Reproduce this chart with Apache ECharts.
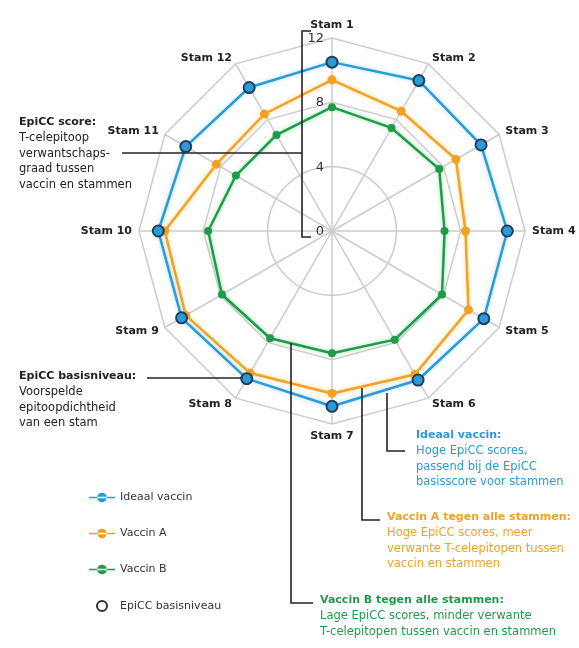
<!DOCTYPE html>
<html><head><meta charset="utf-8">
<script src="https://cdn.jsdelivr.net/npm/echarts@6/dist/echarts.min.js"></script>
<style>html,body{margin:0;padding:0;background:#fff}#c{width:579px;height:648px}</style>
</head><body><div id="c"></div>
<script>
// ---- data ----
const strains = ['Stam 1','Stam 2','Stam 3','Stam 4','Stam 5','Stam 6','Stam 7','Stam 8','Stam 9','Stam 10','Stam 11','Stam 12'];
const idealVaccine = [10.5, 10.8, 10.7, 10.9, 10.9, 10.7, 10.9, 10.6, 10.8, 10.8, 10.5, 10.3];
const vaccineA     = [9.4, 8.6, 8.9, 8.3, 9.8, 10.3, 10.1, 10.2, 10.5, 10.4, 8.3, 8.4];
const vaccineB     = [7.7, 7.4, 7.7, 7.0, 7.9, 7.8, 7.6, 7.7, 7.9, 7.7, 6.9, 6.9];
const baseLevel    = [10.5, 10.8, 10.7, 10.9, 10.9, 10.7, 10.9, 10.6, 10.8, 10.8, 10.5, 10.3];
const radialTicks  = [0, 4, 8, 12];
const seriesNames  = ['Ideaal vaccin', 'Vaccin A', 'Vaccin B', 'EpiCC basisniveau'];

// ---- build ----
const BLUE = '#2b9ad6', ORANGE = '#f2a125', GREEN = '#1f9a4b', GRID = '#cccccc', DARK = '#222';
const NONE = 'rgba(0,0,0,0)';
const maxV = radialTicks[radialTicks.length - 1];
const step = radialTicks[1] - radialTicks[0];
// clockwise ordering: Stam 1 at top, then Stam 2 to the right
const order = [0, 11, 10, 9, 8, 7, 6, 5, 4, 3, 2, 1];
const re = arr => order.map(i => arr[i]);
const indicators = order.map(i => ({ name: strains[i], max: maxV, min: 0 }));
const C = [332, 231], R = 193;
const FONT = 'DejaVu Sans';
const lineIcon = 'path://M0,4.2h26v1.6h-26z M13,0.2a4.8,4.8 0 1,0 0.01,0z';

function block(x, y, color, lines) {
  const txt = lines.map((l, i) => (i === 0 ? '{b|' : '{n|') + l + '}').join('\n');
  return {
    type: 'text', left: x, top: y, z: 10,
    style: {
      text: txt, fill: color, font: '12px ' + FONT,
      rich: {
        b: { fontFamily: FONT, fontSize: 11, fontWeight: 'bold', lineHeight: 15.6, fill: color, color: color },
        n: { fontFamily: FONT, fontSize: 11.5, lineHeight: 15.6, fill: color, color: color }
      }
    }
  };
}
function pl(points) {
  return { type: 'polyline', z: 5, shape: { points: points }, style: { stroke: DARK, lineWidth: 1.6, fill: null } };
}

const option = {
  backgroundColor: '#fff',
  animation: false,
  textStyle: { fontFamily: FONT },
  legend: {
    orient: 'vertical', left: 84, top: 487, itemGap: 25, itemWidth: 26, itemHeight: 10,
    textStyle: { fontFamily: FONT, fontSize: 11, color: '#333' },
    data: [
      { name: seriesNames[0], icon: lineIcon },
      { name: seriesNames[1], icon: lineIcon },
      { name: seriesNames[2], icon: lineIcon },
      { name: seriesNames[3], icon: 'circle', itemStyle: { color: '#fff', borderColor: '#333', borderWidth: 2 } }
    ]
  },
  radar: [
    {
      center: C, radius: R, shape: 'polygon', splitNumber: maxV / step, indicator: indicators,
      axisName: { color: DARK, fontFamily: FONT, fontSize: 11, fontWeight: 'bold' },
      nameGap: 7,
      axisLine: { lineStyle: { color: GRID, width: 1.5 } },
      splitLine: { lineStyle: { color: [NONE, NONE, GRID, GRID], width: 1.5 } },
      splitArea: { show: false }
    },
    {
      center: C, radius: R, shape: 'circle', splitNumber: maxV / step, indicator: indicators,
      axisName: { show: false },
      axisLine: { show: false },
      splitLine: { lineStyle: { color: [NONE, GRID, NONE, NONE], width: 1.5 } },
      splitArea: { show: false }
    }
  ],
  polar: { center: C, radius: R },
  angleAxis: { show: false, type: 'value', min: 0, max: 360 },
  radiusAxis: {
    type: 'value', min: radialTicks[0], max: maxV, interval: step,
    axisLine: { show: false }, axisTick: { show: false }, splitLine: { show: false },
    axisLabel: { color: '#333', fontFamily: FONT, fontSize: 13, margin: 8, verticalAlign: 'top', padding: [-6, 0, 0, 0] }
  },
  series: [
    {
      type: 'radar', radarIndex: 0, z: 2, name: seriesNames[2], symbol: 'circle', symbolSize: 8,
      itemStyle: { color: GREEN }, lineStyle: { color: GREEN, width: 2.5, shadowColor: 'rgba(120,220,140,0.8)', shadowBlur: 4 },
      data: [{ name: seriesNames[2], value: re(vaccineB) }]
    },
    {
      type: 'radar', radarIndex: 0, z: 3, name: seriesNames[1], symbol: 'circle', symbolSize: 9,
      itemStyle: { color: ORANGE }, lineStyle: { color: ORANGE, width: 2.5, shadowColor: 'rgba(250,200,110,0.8)', shadowBlur: 4 },
      data: [{ name: seriesNames[1], value: re(vaccineA) }]
    },
    {
      type: 'radar', radarIndex: 0, z: 4, name: seriesNames[0], symbol: 'circle', symbolSize: 10,
      itemStyle: { color: BLUE }, lineStyle: { color: BLUE, width: 2.5, shadowColor: 'rgba(140,210,250,0.8)', shadowBlur: 4 },
      data: [{ name: seriesNames[0], value: re(idealVaccine) }]
    },
    {
      type: 'radar', radarIndex: 0, z: 5, name: seriesNames[3], symbol: 'circle', symbolSize: 11,
      itemStyle: { color: NONE, borderColor: '#1d3e5e', borderWidth: 2 },
      lineStyle: { opacity: 0 },
      data: [{ name: seriesNames[3], value: re(baseLevel) }]
    }
  ],
  graphic: [
    pl([[311, 31], [302, 31], [302, 237], [311, 237]]),
    pl([[122, 153], [302, 153]]),
    pl([[147, 378], [243, 378]]),
    pl([[291, 343], [291, 603], [313, 603]]),
    pl([[362, 388], [362, 520], [380, 520]]),
    pl([[387, 393], [387, 451], [405, 451]]),
    block(19, 117, DARK, ['EpiCC score:', 'T-celepitoop', 'verwantschaps-', 'graad tussen', 'vaccin en stammen']),
    block(19, 371, DARK, ['EpiCC basisniveau:', 'Voorspelde', 'epitoopdichtheid', 'van een stam']),
    block(416, 430, BLUE, ['Ideaal vaccin:', 'Hoge EpiCC scores,', 'passend bij de EpiCC', 'basisscore voor stammen']),
    block(387, 512, ORANGE, ['Vaccin A tegen alle stammen:', 'Hoge EpiCC scores, meer', 'verwante T-celepitopen tussen', 'vaccin en stammen']),
    block(320, 595, GREEN, ['Vaccin B tegen alle stammen:', 'Lage EpiCC scores, minder verwante', 'T-celepitopen tussen vaccin en stammen'])
  ]
};
echarts.init(document.getElementById('c')).setOption(option);
</script></body></html>
